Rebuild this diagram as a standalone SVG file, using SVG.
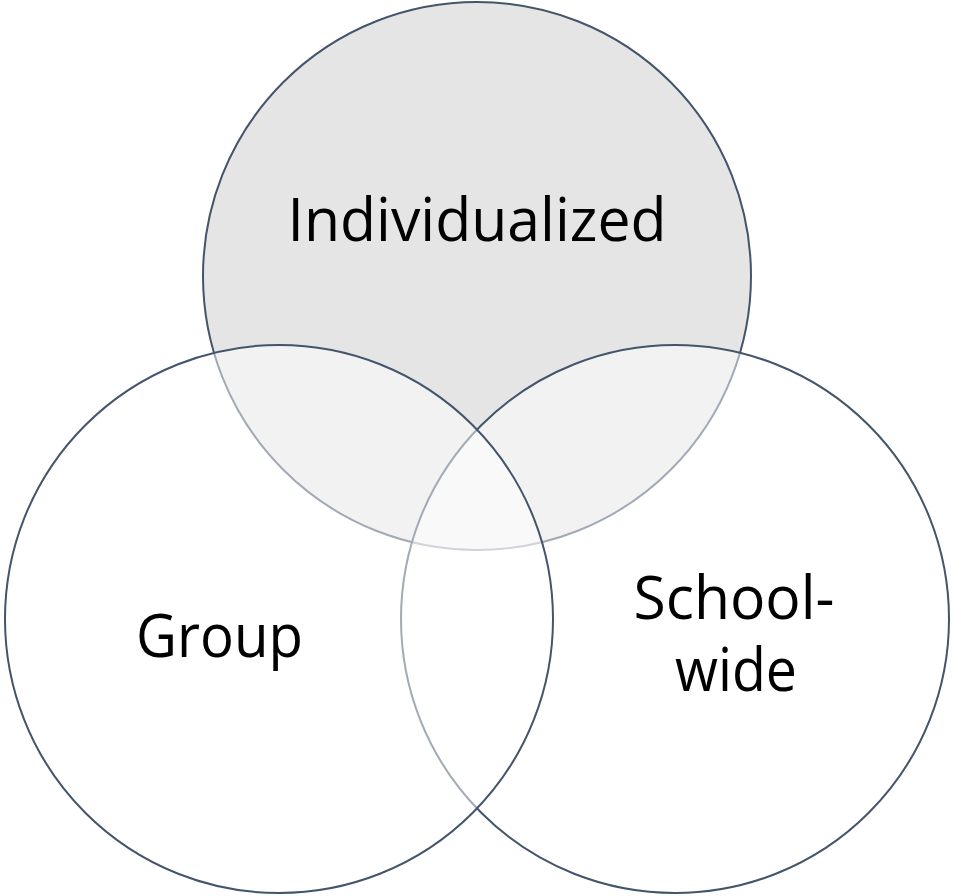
<svg xmlns="http://www.w3.org/2000/svg" width="953" height="896" viewBox="0 0 953 896">
  <style>
    .ring { stroke: #44546a; stroke-width: 2; }
    .label { font-family: "Open Sans", "Liberation Sans", sans-serif; font-size: 60px; fill: #000000; text-anchor: middle; }
  </style>
  <rect width="953" height="896" fill="#ffffff"/>
  <!-- circles are stacked: top, right, left; the lower two use half-transparent white so earlier outlines show through faintly -->
  <g id="individualized">
    <circle class="ring" cx="477" cy="276" r="274" fill="#e5e5e5"/>
    <text class="label" x="477" y="241" textLength="379" lengthAdjust="spacingAndGlyphs">Individualized</text>
  </g>
  <g id="school-wide">
    <circle class="ring" cx="675" cy="619" r="274" fill="#ffffff" fill-opacity="0.5"/>
    <text class="label" x="734" y="619" textLength="201" lengthAdjust="spacingAndGlyphs">School-</text>
    <text class="label" x="736" y="691" textLength="122" lengthAdjust="spacingAndGlyphs">wide</text>
  </g>
  <g id="group">
    <circle class="ring" cx="279" cy="619" r="274" fill="#ffffff" fill-opacity="0.5"/>
    <text class="label" x="219.5" y="657" textLength="167" lengthAdjust="spacingAndGlyphs">Group</text>
  </g>
  <g id="connectors"/>
</svg>
